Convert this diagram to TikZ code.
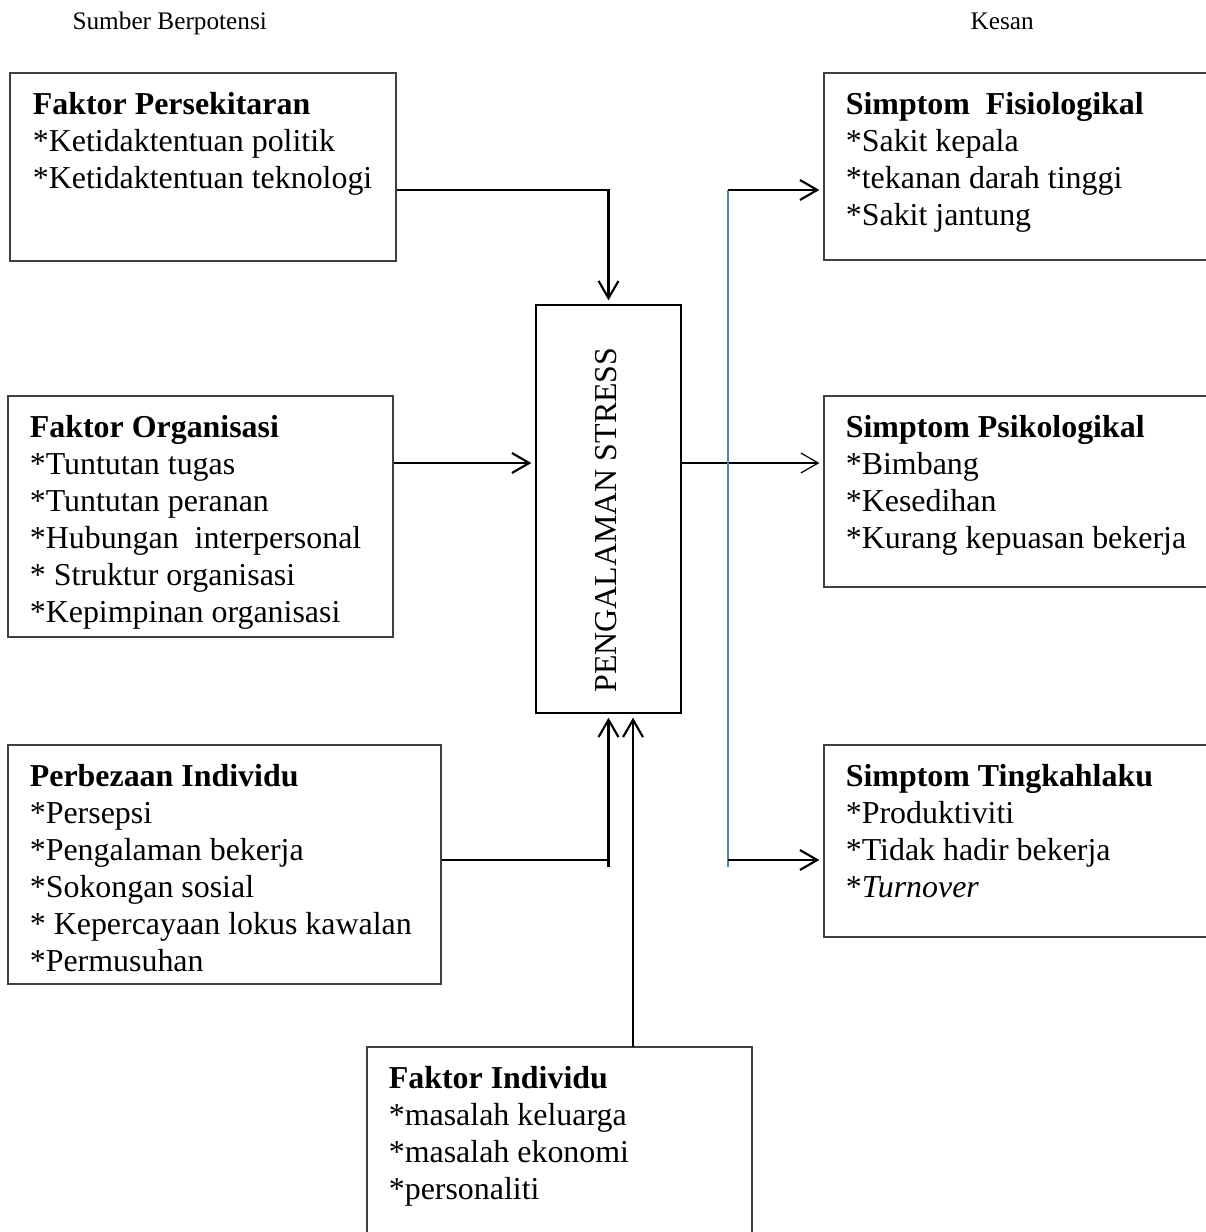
\documentclass[tikz,border=0pt]{standalone}
\usepackage{fontspec}
\setmainfont{Liberation Serif}
\usetikzlibrary{positioning,calc,fit,arrows.meta}
\tikzset{
  box/.style={draw=black!75, line width=0.5pt, inner sep=0pt},
  txt/.style={anchor=north west, align=left, inner sep=0pt, font=\fontsize{12}{13.9}\selectfont},
  head/.style={anchor=base west, inner sep=0pt, font=\fontsize{9.5}{11}\selectfont},
  arr/.style={-{Straight Barb[length=6.5pt,width=7.5pt]}, line width=0.8pt, shorten >=1.5pt},
  thinarr/.style={arr, line width=0.45pt},
}
\definecolor{linkblue}{HTML}{4F81BD}
\begin{document}
\begin{tikzpicture}[x=0.376pt,y=-0.376pt]
			\clip (0,0) rectangle (1206,1232);
			% headings
			\node[head] (hsumber) at (72,30) {Sumber Berpotensi};
			\node[head] (hkesan) at (970,30) {Kesan};
			% sources
			\node[box, fit={(10,73) (396,261)}] (pers) {};
			\node[txt] (perst) at ([shift={(23,16)}]pers.north west) {\strut\textbf{Faktor Persekitaran}\\{}*Ketidaktentuan politik\\{}*Ketidaktentuan teknologi};
			\node[box, fit={(8,396) (393,637)}] (org) {};
			\node[txt] (orgt) at ([shift={(22,16)}]org.north west) {\strut\textbf{Faktor Organisasi}\\{}*Tuntutan tugas\\{}*Tuntutan peranan\\{}*Hubungan\ \ interpersonal\\{}*\ Struktur organisasi\\{}*Kepimpinan organisasi};
			\node[box, fit={(8,745) (441,984)}] (perb) {};
			\node[txt] (perbt) at ([shift={(22,16)}]perb.north west) {\strut\textbf{Perbezaan Individu}\\{}*Persepsi\\{}*Pengalaman bekerja\\{}*Sokongan sosial\\{}*\ Kepercayaan lokus kawalan\\{}*Permusuhan};
			\node[box, fit={(367,1047) (752,1260)}] (indiv) {};
			\node[txt] (indivt) at ([shift={(22,16)}]indiv.north west) {\strut\textbf{Faktor Individu}\\{}*masalah keluarga\\{}*masalah ekonomi\\{}*personaliti};
			% stress
			\node[box, draw=black, fit={(536,305) (681,713)}] (stress) {};
			\node[rotate=90, inner sep=0pt, font=\fontsize{12}{13.9}\selectfont] (stresst) at (606,520) {PENGALAMAN STRESS};
			% effects
			\node[box, fit={(824,73) (1240,260)}] (fisio) {};
			\node[txt] (fisiot) at ([shift={(22,16)}]fisio.north west) {\strut\textbf{Simptom\ \ Fisiologikal}\\{}*Sakit kepala\\{}*tekanan darah tinggi\\{}*Sakit jantung};
			\node[box, fit={(824,396) (1240,587)}] (psiko) {};
			\node[txt] (psikot) at ([shift={(22,16)}]psiko.north west) {\strut\textbf{Simptom Psikologikal}\\{}*Bimbang\\{}*Kesedihan\\{}*Kurang kepuasan bekerja};
			\node[box, fit={(824,745) (1240,937)}] (tingkah) {};
			\node[txt] (tingkaht) at ([shift={(22,16)}]tingkah.north west) {\strut\textbf{Simptom Tingkahlaku}\\{}*Produktiviti\\{}*Tidak hadir bekerja\\{}*\textit{Turnover}};
			% connectors
			\coordinate (j1) at (stress.north |- 0,190);
			\coordinate (j3) at (stress.south |- 0,860);
			\coordinate (j4) at (633,1047);
			\coordinate (sp) at (728,190);
			\coordinate (sb) at (728,860);
			\draw[arr] (pers.east |- j1) -- (j1) -- (stress.north);
			\draw[arr] (org.east |- 0,463) -- (stress.west |- 0,463);
			\draw[line width=0.8pt] (perb.east |- j3) -- (j3);
			\draw[arr] ($(j3)+(0,7)$) -- (stress.south);
			\draw[arr] (j4) -- (j4 |- stress.south);
			\draw[thinarr] (stress.east |- 0,463) -- (psiko.west |- 0,463);
			\draw[linkblue, line width=0.6pt] (sp) -- ($(sb)+(0,7)$);
			\draw[arr] (sp) -- (fisio.west |- sp);
			\draw[arr] (sb) -- (tingkah.west |- sb);
\end{tikzpicture}
\end{document}
